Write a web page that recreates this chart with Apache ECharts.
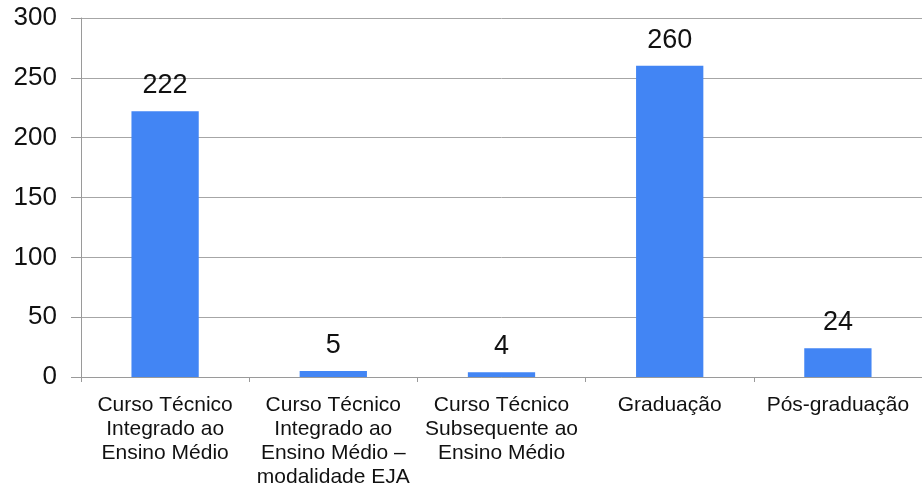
<!DOCTYPE html>
<html>
<head>
<meta charset="utf-8">
<script src="https://cdn.jsdelivr.net/npm/echarts@6/dist/echarts.min.js"></script>
<style>html,body{margin:0;padding:0;background:#fff;}#c{width:922px;height:489px;}</style>
</head>
<body>
<div id="c"></div>
<script>
var categories = [
  "Curso Técnico\nIntegrado ao\nEnsino Médio",
  "Curso Técnico\nIntegrado ao\nEnsino Médio –\nmodalidade EJA",
  "Curso Técnico\nSubsequente ao\nEnsino Médio",
  "Graduação",
  "Pós-graduação"
];
var values = [222, 5, 4, 260, 24];
var yMin = 0, yMax = 300, yInterval = 50;

var chart = echarts.init(document.getElementById('c'), null, {renderer: 'canvas'});
chart.setOption({
  animation: false,
  backgroundColor: '#ffffff',
  textStyle: {fontFamily: 'Liberation Sans, Arial, sans-serif'},
  grid: {left: 81, right: 0, top: 18, bottom: 112, containLabel: false},
  xAxis: {
    type: 'category',
    data: categories,
    axisLine: {lineStyle: {color: '#9a9a9a', width: 1}},
    axisTick: {show: true, alignWithLabel: false, length: 5, lineStyle: {color: '#9a9a9a'}},
    axisLabel: {
      color: '#111', fontSize: 21, lineHeight: 24, margin: 16,
      interval: 0, fontFamily: 'Liberation Sans, Arial, sans-serif'
    },
    splitLine: {show: false}
  },
  yAxis: {
    type: 'value',
    min: yMin, max: yMax, interval: yInterval,
    axisLine: {show: true, lineStyle: {color: '#9a9a9a', width: 1}},
    axisTick: {show: true, length: 10, lineStyle: {color: '#9a9a9a'}},
    axisLabel: {color: '#111', fontSize: 26, margin: 24, fontFamily: 'Liberation Sans, Arial, sans-serif'},
    splitLine: {show: true, lineStyle: {color: '#a6a6a6', width: 1}}
  },
  series: [{
    type: 'bar',
    data: values,
    barWidth: '40%',
    itemStyle: {color: '#4285f4'},
    label: {
      show: true, position: 'top', distance: 12,
      color: '#111', fontSize: 27, fontFamily: 'Liberation Sans, Arial, sans-serif'
    }
  }]
});
</script>
</body>
</html>
